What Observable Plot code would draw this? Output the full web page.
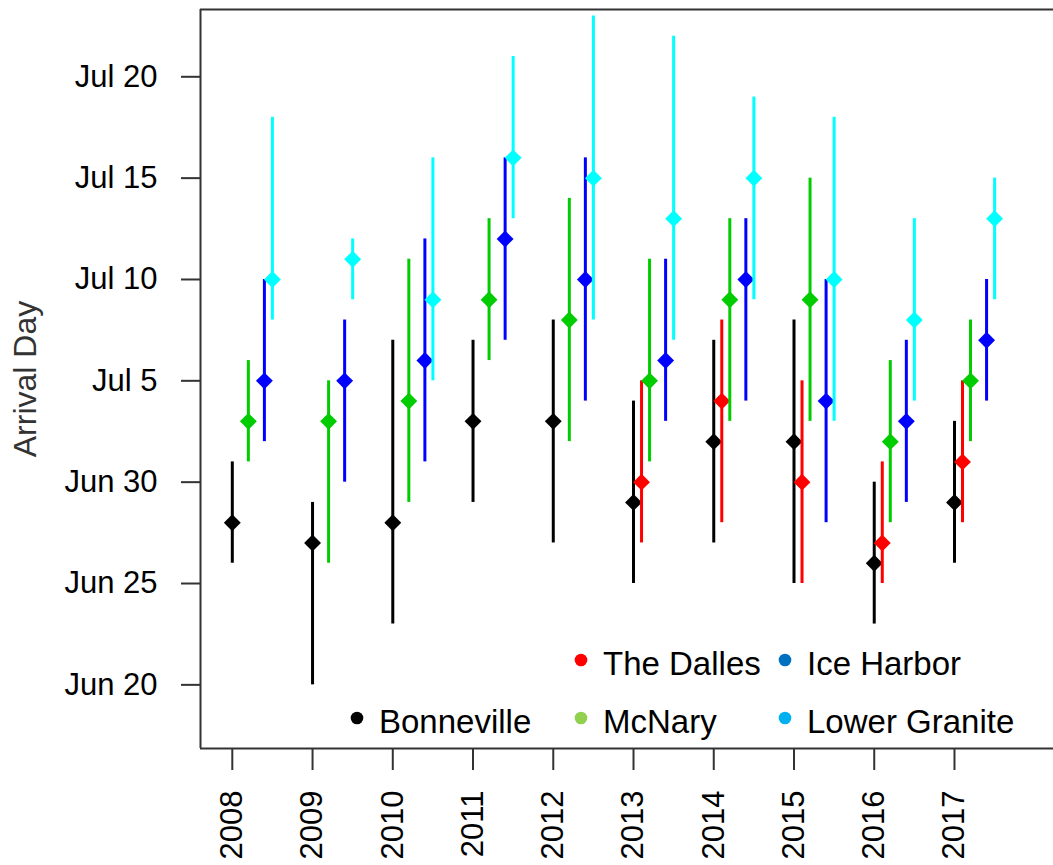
<!DOCTYPE html>
<html>
<head>
<meta charset="utf-8">
<script src="https://cdn.jsdelivr.net/npm/d3@7"></script>
<script src="https://cdn.jsdelivr.net/npm/@observablehq/plot@0.6"></script>
<style>
  body { margin: 0; background: #fff; }
  #chart { position: relative; width: 1053px; height: 865px; overflow: hidden; }
</style>
</head>
<body>
<div id="chart"></div>
<script>
// ---------- data ----------
const years = [2008, 2009, 2010, 2011, 2012, 2013, 2014, 2015, 2016, 2017];
const sites = ["Bonneville", "The Dalles", "McNary", "Ice Harbor", "Lower Granite"];
const siteOffsets = [0, 0.1, 0.2, 0.4, 0.5];
const siteColors = ["#000000", "#ff0000", "#00cc00", "#0000ff", "#00ffff"];
const legendColors = ["#000000", "#ff0000", "#92d050", "#0070c0", "#00b0f0"];

const bonnevilleMid  = ["Jun 28", "Jun 27", "Jun 28", "Jul 3", "Jul 3", "Jun 29", "Jul 2", "Jul 2", "Jun 26", "Jun 29"];
const bonnevilleLow  = ["Jun 26", "Jun 20", "Jun 23", "Jun 29", "Jun 27", "Jun 25", "Jun 27", "Jun 25", "Jun 23", "Jun 26"];
const bonnevilleHigh = ["Jul 1", "Jun 29", "Jul 7", "Jul 7", "Jul 8", "Jul 4", "Jul 7", "Jul 8", "Jun 30", "Jul 3"];

const dallesMid  = [null, null, null, null, null, "Jun 30", "Jul 4", "Jun 30", "Jun 27", "Jul 1"];
const dallesLow  = [null, null, null, null, null, "Jun 27", "Jun 28", "Jun 25", "Jun 25", "Jun 28"];
const dallesHigh = [null, null, null, null, null, "Jul 5", "Jul 8", "Jul 5", "Jul 1", "Jul 5"];

const mcnaryMid  = ["Jul 3", "Jul 3", "Jul 4", "Jul 9", "Jul 8", "Jul 5", "Jul 9", "Jul 9", "Jul 2", "Jul 5"];
const mcnaryLow  = ["Jul 1", "Jun 26", "Jun 29", "Jul 6", "Jul 2", "Jul 1", "Jul 3", "Jul 3", "Jun 28", "Jul 2"];
const mcnaryHigh = ["Jul 6", "Jul 5", "Jul 11", "Jul 13", "Jul 14", "Jul 11", "Jul 13", "Jul 15", "Jul 6", "Jul 8"];

const iceHarborMid  = ["Jul 5", "Jul 5", "Jul 6", "Jul 12", "Jul 10", "Jul 6", "Jul 10", "Jul 4", "Jul 3", "Jul 7"];
const iceHarborLow  = ["Jul 2", "Jun 30", "Jul 1", "Jul 7", "Jul 4", "Jul 3", "Jul 4", "Jun 28", "Jun 29", "Jul 4"];
const iceHarborHigh = ["Jul 10", "Jul 8", "Jul 12", "Jul 16", "Jul 16", "Jul 11", "Jul 13", "Jul 10", "Jul 7", "Jul 10"];

const graniteMid  = ["Jul 10", "Jul 11", "Jul 9", "Jul 16", "Jul 15", "Jul 13", "Jul 15", "Jul 10", "Jul 8", "Jul 13"];
const graniteLow  = ["Jul 8", "Jul 9", "Jul 5", "Jul 13", "Jul 8", "Jul 7", "Jul 9", "Jul 3", "Jul 4", "Jul 9"];
const graniteHigh = ["Jul 18", "Jul 12", "Jul 16", "Jul 21", "Jul 23", "Jul 22", "Jul 19", "Jul 18", "Jul 13", "Jul 15"];

const yTickLabels = ["Jun 20", "Jun 25", "Jun 30", "Jul 5", "Jul 10", "Jul 15", "Jul 20"];
const yTitle = "Arrival Day";

// ---------- build ----------
const parseDay = s => d3.utcParse("%b %d %Y")(s + " 2000");
const seriesMid  = [bonnevilleMid, dallesMid, mcnaryMid, iceHarborMid, graniteMid];
const seriesLow  = [bonnevilleLow, dallesLow, mcnaryLow, iceHarborLow, graniteLow];
const seriesHigh = [bonnevilleHigh, dallesHigh, mcnaryHigh, iceHarborHigh, graniteHigh];

const siteRows = sites.map((site, si) =>
  years.map((yr, i) => seriesMid[si][i] == null ? null : ({
    site,
    x: yr + siteOffsets[si],
    mid: parseDay(seriesMid[si][i]),
    low: parseDay(seriesLow[si][i]),
    high: parseDay(seriesHigh[si][i]),
    color: siteColors[si]
  })).filter(d => d)
);

const DAY = 864e5;
const jun30 = parseDay("Jun 30");
const yDomain = [new Date(+jun30 - 13.14 * DAY), new Date(+jun30 + 23.32 * DAY)];
const xDomain = [2007.6037, 2018.234];
const yTicks = yTickLabels.map(parseDay);

const marks = [];
siteRows.forEach(rows => {
  marks.push(Plot.ruleX(rows, {x: "x", y1: "low", y2: "high", stroke: "color", strokeWidth: 3}));
  marks.push(Plot.dot(rows, {x: "x", y: "mid", fill: "color", symbol: "diamond2", r: 7.6}));
});

const chart = Plot.plot({
  width: 1053,
  height: 865,
  marginLeft: 200,
  marginRight: 0,
  marginTop: 9,
  marginBottom: 117,
  style: {fontFamily: "'Liberation Sans', Arial, sans-serif", background: "#fff", color: "#000"},
  x: {domain: xDomain},
  y: {type: "utc", domain: yDomain},
  color: {type: "identity"},
  marks: [
    Plot.axisY({ticks: yTicks, tickFormat: d3.utcFormat("%b %-d"), tickSize: 19, tickPadding: 24,
      fontSize: 31, stroke: "#333", strokeWidth: 2, fill: "#000", label: null}),
    Plot.axisX({ticks: years, tickFormat: d => String(d), tickSize: 22, tickPadding: 20, tickRotate: -90,
      fontSize: 31, stroke: "#333", strokeWidth: 2, fill: "#000", label: null}),
    Plot.text([yTitle], {frameAnchor: "left", textAnchor: "middle", dx: -175, rotate: -90, fontSize: 32, fill: "#333"}),
    ...marks,
    Plot.ruleY(yDomain, {stroke: "#333", strokeWidth: 2}),
    Plot.ruleX([xDomain[0]], {stroke: "#333", strokeWidth: 2})
  ]
});

document.getElementById("chart").appendChild(chart);

// ---------- legend (inside plot, two rows) ----------
const legendItems = [
  {i: 1, col: 1, row: 0},
  {i: 3, col: 2, row: 0},
  {i: 0, col: 0, row: 1},
  {i: 2, col: 1, row: 1},
  {i: 4, col: 2, row: 1}
];
const colX = [357, 581, 785];
const rowY = [675, 733];
const svg = d3.select(chart);
const lg = svg.append("g")
  .attr("font-family", "'Liberation Sans', Arial, sans-serif")
  .attr("font-size", 33)
  .attr("text-anchor", "start");
legendItems.forEach(it => {
  lg.append("circle").attr("cx", colX[it.col]).attr("cy", rowY[it.row] - 15).attr("r", 6.3).attr("fill", legendColors[it.i]);
  lg.append("text").attr("x", colX[it.col] + 22).attr("y", rowY[it.row]).attr("fill", "#000").attr("text-anchor", "start").text(sites[it.i]);
});
</script>
</body>
</html>
